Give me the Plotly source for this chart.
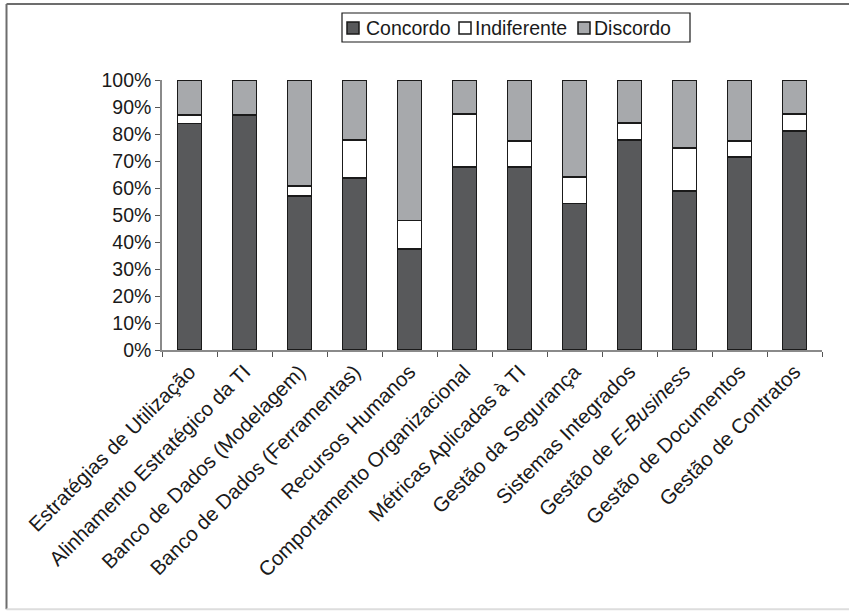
import plotly.graph_objects as go

categories = [
    "Estratégias de Utilização",
    "Alinhamento Estratégico da TI",
    "Banco de Dados (Modelagem)",
    "Banco de Dados (Ferramentas)",
    "Recursos Humanos",
    "Comportamento Organizacional",
    "Métricas Aplicadas à TI",
    "Gestão da Segurança",
    "Sistemas Integrados",
    "Gestão de <i>E-Business</i>",
    "Gestão de Documentos",
    "Gestão de Contratos",
]
concordo = [83.9, 87.1, 57.1, 63.6, 37.4, 67.7, 67.7, 54.3, 77.7, 58.9, 71.4, 81.1]
indiferente = [3.2, 0.0, 3.6, 14.1, 10.5, 19.7, 9.8, 9.8, 6.3, 15.9, 6.1, 6.3]
discordo = [12.9, 12.9, 39.3, 22.3, 52.1, 12.6, 22.5, 35.9, 16.0, 25.2, 22.5, 12.6]
y_ticks = [0, 10, 20, 30, 40, 50, 60, 70, 80, 90, 100]
y_ticklabels = ["0%", "10%", "20%", "30%", "40%", "50%", "60%", "70%", "80%", "90%", "100%"]
series_names = ["Concordo", "Indiferente", "Discordo"]
series_colors = ["#58595b", "#ffffff", "#a7a9ac"]

FONT = "Liberation Sans"
line = dict(color="#1a1a1a", width=1.6)

fig = go.Figure()
for name, vals, col in zip(series_names, [concordo, indiferente, discordo], series_colors):
    fig.add_trace(go.Bar(name=name, x=categories, y=vals,
                         marker=dict(color=col, line=line), showlegend=False))

# outer frame
frame = dict(xref="paper", yref="paper", type="line")
shapes = [
    dict(frame, x0=-0.2356, x1=1.05, y0=1.2815, y1=1.2815, line=dict(color="#6d6d6d", width=2)),
    dict(frame, x0=-0.2356, x1=-0.2356, y0=1.2815, y1=-0.96, line=dict(color="#6d6d6d", width=2)),
    dict(frame, x0=-0.2356, x1=1.05, y0=-0.96, y1=-0.96, line=dict(color="#dddddd", width=2)),
]

# custom legend (pixel positions converted to paper coords)
def px(x):
    return (x - 162) / 660.0

def py(y):
    return (350 - y) / 270.0

shapes.append(dict(type="rect", xref="paper", yref="paper",
                   x0=px(342), x1=px(690), y0=py(42), y1=py(13),
                   line=dict(color="#1a1a1a", width=1.2), fillcolor="white"))
annotations = []
sw_x = [347, 459, 578]
txt_x = [364, 473, 592]
for name, col, sx, tx in zip(series_names, series_colors, sw_x, txt_x):
    shapes.append(dict(type="rect", xref="paper", yref="paper",
                       x0=px(sx), x1=px(sx + 12), y0=py(34), y1=py(22),
                       line=dict(color="#1a1a1a", width=1.5), fillcolor=col))
    annotations.append(dict(xref="paper", yref="paper", x=px(tx), y=py(28),
                            xanchor="left", yanchor="middle", text=name, showarrow=False,
                            font=dict(family=FONT, size=19.5, color="#1a1a1a")))

fig.update_layout(
    width=849, height=611,
    barmode="stack", bargap=0.56,
    paper_bgcolor="white", plot_bgcolor="white",
    margin=dict(l=162, r=27, t=80, b=261),
    font=dict(family=FONT, size=19.5, color="#1a1a1a"),
    showlegend=False,
    shapes=shapes,
    annotations=annotations,
)
fig.update_xaxes(showline=True, linecolor="#8a8a8a", linewidth=1.5,
                 ticks="outside", tickson="boundaries", ticklen=5, tickcolor="#555",
                 tickangle=-45, tickfont=dict(family=FONT, size=20.5), showgrid=False)
fig.update_yaxes(range=[0, 100], tickmode="array", tickvals=y_ticks, ticktext=y_ticklabels,
                 showline=True, linecolor="#8a8a8a", linewidth=1.5,
                 ticks="outside", ticklen=5, tickcolor="#555",
                 showgrid=False, zeroline=False, tickfont=dict(family=FONT, size=19.5))

fig.write_html("out.html")
